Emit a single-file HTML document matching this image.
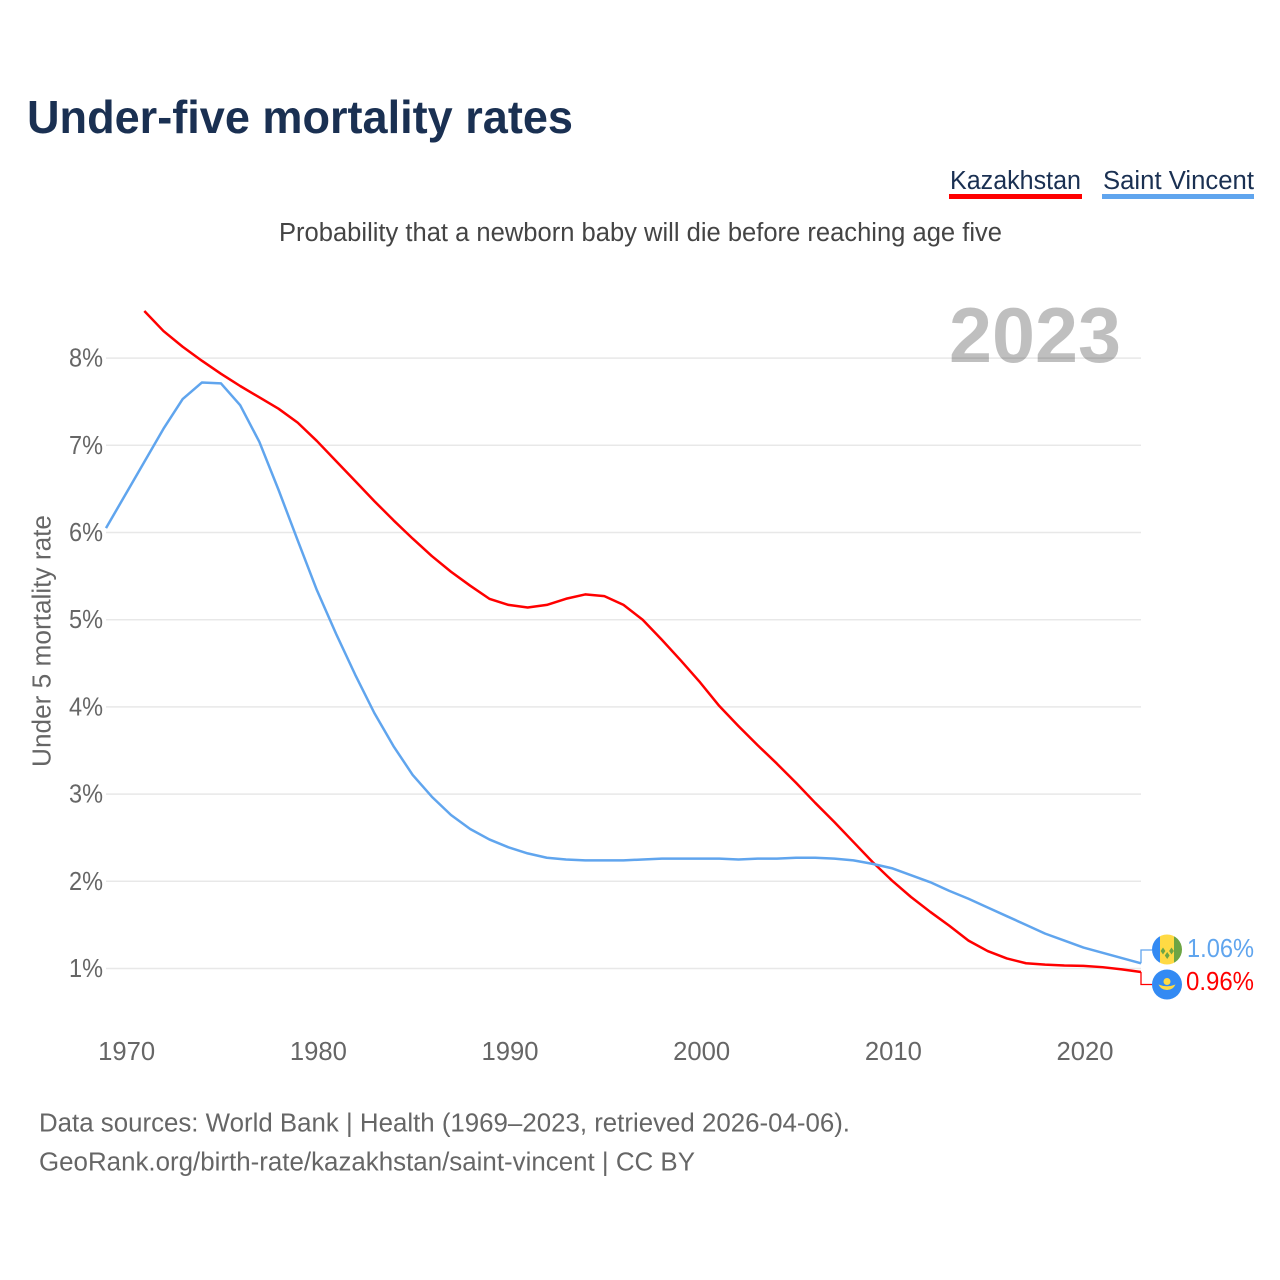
<!DOCTYPE html>
<html lang="en">
<head>
<meta charset="utf-8">
<title>Under-five mortality rates</title>
<style>
html,body{margin:0;padding:0;background:#fff;}
svg{display:block;font-family:"Liberation Sans",Arial,sans-serif;}
</style>
</head>
<body>
<svg id="chart" width="1280" height="1280" viewBox="0 0 1280 1280" xmlns="http://www.w3.org/2000/svg">
  <rect width="1280" height="1280" fill="#fff"/>
  <text x="27" y="133" font-size="46" font-weight="bold" fill="#1a3052" textLength="546" lengthAdjust="spacingAndGlyphs">Under-five mortality rates</text>
  <text x="950" y="189" font-size="25.5" fill="#1a3052" textLength="131" lengthAdjust="spacingAndGlyphs">Kazakhstan</text>
  <rect x="949" y="194" width="133" height="5" fill="#ff0000"/>
  <text x="1103" y="189" font-size="25.5" fill="#1a3052" textLength="151" lengthAdjust="spacingAndGlyphs">Saint Vincent</text>
  <rect x="1102" y="194" width="152" height="5" fill="#60a5ee"/>
  <text x="279" y="241" font-size="25.5" fill="#444" textLength="723" lengthAdjust="spacingAndGlyphs">Probability that a newborn baby will die before reaching age five</text>
  <g id="grid"></g>
  <text x="949" y="362" font-size="78" font-weight="bold" fill="#000" fill-opacity="0.25" textLength="172" lengthAdjust="spacingAndGlyphs">2023</text>
  <g id="yticks"></g>
  <g id="xticks"></g>
  <text transform="translate(50.5,641) rotate(-90)" text-anchor="middle" font-size="25.5" fill="#666" textLength="252" lengthAdjust="spacingAndGlyphs">Under 5 mortality rate</text>
  <g id="series"></g>

  <g>
    <clipPath id="clip-vc"><circle cx="1167" cy="949.5" r="15"/></clipPath>
    <g clip-path="url(#clip-vc)">
      <rect x="1152" y="934" width="8" height="31" fill="#338af3"/>
      <rect x="1160" y="934" width="14" height="31" fill="#ffda44"/>
      <rect x="1174" y="934" width="8" height="31" fill="#6da544"/>
      <path d="M1163 947.5l2.4 3.5-2.4 3.5-2.4-3.5zM1171.5 947.5l2.4 3.5-2.4 3.5-2.4-3.5zM1167.2 952l2.4 3.5-2.4 3.5-2.4-3.5z" fill="#6da544"/>
    </g>
  </g>
  <g>
    <circle cx="1167" cy="984.5" r="15" fill="#338af3"/>
    <circle cx="1167" cy="981.5" r="3.5" fill="#ffda44"/>
    <path d="M1158.5 984.5q8.5 3.5 17 0q-2.5 5.5-8.5 5.5t-8.5-5.5z" fill="#ffda44"/>
  </g>
  <g id="endlabels"></g>

  <text x="39" y="1131.5" font-size="25.5" fill="#666" textLength="811" lengthAdjust="spacingAndGlyphs">Data sources: World Bank | Health (1969–2023, retrieved 2026-04-06).</text>
  <text x="39" y="1170.5" font-size="25.5" fill="#666" textLength="656" lengthAdjust="spacingAndGlyphs">GeoRank.org/birth-rate/kazakhstan/saint-vincent | CC BY</text>
</svg>
<script>
const NS = 'http://www.w3.org/2000/svg';
const years = [1969,1970,1971,1972,1973,1974,1975,1976,1977,1978,1979,1980,1981,1982,1983,1984,1985,1986,1987,1988,1989,1990,1991,1992,1993,1994,1995,1996,1997,1998,1999,2000,2001,2002,2003,2004,2005,2006,2007,2008,2009,2010,2011,2012,2013,2014,2015,2016,2017,2018,2019,2020,2021,2022,2023];
const kazakhstan = [null,null,8.54,8.31,8.13,7.97,7.82,7.68,7.55,7.42,7.26,7.05,6.82,6.59,6.36,6.14,5.93,5.73,5.55,5.39,5.24,5.17,5.14,5.17,5.24,5.29,5.27,5.17,5.00,4.77,4.53,4.28,4.01,3.78,3.56,3.35,3.13,2.90,2.68,2.45,2.22,2.01,1.82,1.65,1.49,1.32,1.20,1.115,1.06,1.045,1.035,1.03,1.015,0.99,0.96];
const saintVincent = [6.05,6.43,6.81,7.19,7.53,7.72,7.71,7.46,7.04,6.49,5.91,5.34,4.84,4.37,3.93,3.55,3.22,2.97,2.76,2.60,2.48,2.39,2.32,2.27,2.25,2.24,2.24,2.24,2.25,2.26,2.26,2.26,2.26,2.25,2.26,2.26,2.27,2.27,2.26,2.24,2.20,2.15,2.07,1.99,1.89,1.80,1.70,1.60,1.50,1.40,1.32,1.24,1.18,1.12,1.06];
const yTickValues = [1,2,3,4,5,6,7,8];
const yTickLabels = ['1%','2%','3%','4%','5%','6%','7%','8%'];
const xTickValues = [1970,1980,1990,2000,2010,2020];
const xTickLabels = ['1970','1980','1990','2000','2010','2020'];
const endLabels = ['0.96%','1.06%'];

function xScale(year){ return 106 + (year - 1969) * (1141 - 106) / (2023 - 1969); }
function yScale(v){ return 968.5 - (v - 1) * 87.2; }
function make(tag, attrs, parent){
  const el = document.createElementNS(NS, tag);
  for (const k in attrs) el.setAttribute(k, attrs[k]);
  parent.appendChild(el);
  return el;
}
const grid = document.getElementById('grid');
const yticks = document.getElementById('yticks');
const xticks = document.getElementById('xticks');
const seriesGroup = document.getElementById('series');
const endGroup = document.getElementById('endlabels');

yTickValues.forEach(function(v, i){
  const line = make('line', {x1:106, x2:1141, y1:yScale(v), y2:yScale(v), stroke:'#e8e8e8', 'stroke-width':1.5}, grid);
  
  
  const t = make('text', {x:103, y:yScale(v)+8.5, 'text-anchor':'end', 'font-size':25.5, fill:'#666', textLength:34, lengthAdjust:'spacingAndGlyphs'}, yticks);
  t.textContent = yTickLabels[i];
  
  
});
xTickValues.forEach(function(v, i){
  const t = make('text', {x:xScale(v)+1.5, y:1060, 'text-anchor':'middle', 'font-size':25.5, fill:'#666', textLength:57, lengthAdjust:'spacingAndGlyphs'}, xticks);
  t.textContent = xTickLabels[i];
  
  
});
function linePath(values){
  let d = '';
  values.forEach(function(v, i){
    if (v === null) return;
    d += (d ? 'L' : 'M') + xScale(years[i]).toFixed(2) + ' ' + yScale(v).toFixed(2);
  });
  return d;
}
const kazLine = make('path', {d:linePath(kazakhstan), fill:'none', stroke:'#ff0000', 'stroke-width':2.5, 'stroke-linejoin':'round'}, seriesGroup);


const vcLine = make('path', {d:linePath(saintVincent), fill:'none', stroke:'#60a5ee', 'stroke-width':2.5, 'stroke-linejoin':'round'}, seriesGroup);



const endX = xScale(years[years.length - 1]);
const kazEnd = yScale(kazakhstan[kazakhstan.length - 1]);
const vcEnd = yScale(saintVincent[saintVincent.length - 1]);
const kazLead = make('path', {d:'M'+endX+' '+kazEnd+'V984.5H1152', fill:'none', stroke:'#ff0000', 'stroke-width':1.3}, seriesGroup);


const vcLead = make('path', {d:'M'+endX+' '+vcEnd+'V950H1152', fill:'none', stroke:'#60a5ee', 'stroke-width':1.3}, seriesGroup);



const kazLabel = make('text', {x:1186, y:990, 'font-size':25.5, fill:'#ff0000', textLength:68, lengthAdjust:'spacingAndGlyphs'}, endGroup);
kazLabel.textContent = endLabels[0];


const vcLabel = make('text', {x:1187, y:957, 'font-size':25.5, fill:'#60a5ee', textLength:67, lengthAdjust:'spacingAndGlyphs'}, endGroup);
vcLabel.textContent = endLabels[1];


</script>
</body>
</html>
